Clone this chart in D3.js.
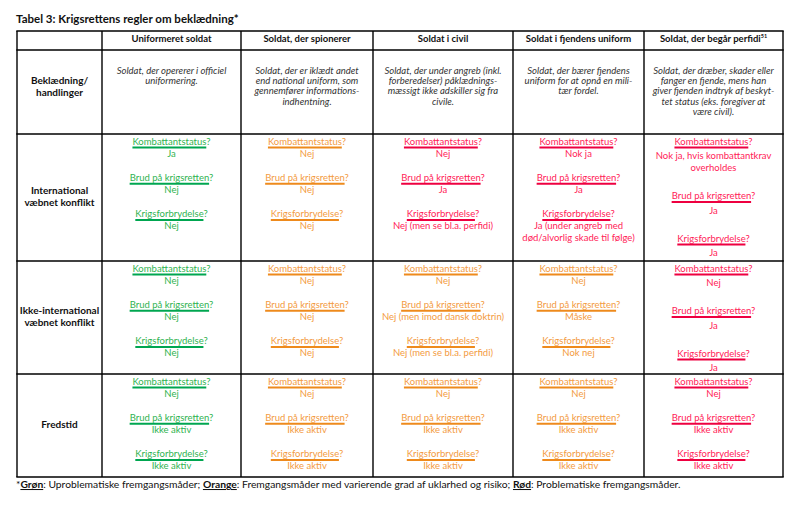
<!DOCTYPE html>
<html>
<head>
<meta charset="utf-8">
<script src="https://cdn.jsdelivr.net/npm/d3@7"></script>
<style>
  body { margin: 0; background: #fff; }
  text { font-family: Lato, "Open Sans", sans-serif; }
</style>
</head>
<body>
<div id="chart"></div>
<script>
var width = 810;
var height = 516;

// ---- table content ----
var title = "Tabel 3: Krigsrettens regler om beklædning*";
var columns = ["Uniformeret soldat", "Soldat, der spionerer", "Soldat i civil",
               "Soldat i fjendens uniform", "Soldat, der begår perfidi"];
var columnNotes = ["", "", "", "", "51"];

var descLabel = ["Beklædning/", "handlinger"];
var descriptions = [
  ["Soldat, der opererer i officiel", "uniformering."],
  ["Soldat, der er iklædt andet", "end national uniform, som", "gennemfører informations-", "indhentning."],
  ["Soldat, der under angreb (inkl.", "forberedelser) påklædnings-", "mæssigt ikke adskiller sig fra", "civile."],
  ["Soldat, der bærer fjendens", "uniform for at opnå en mili-", "tær fordel."],
  ["Soldat, der dræber, skader eller", "fanger en fjende, mens han", "giver fjenden indtryk af beskyt-", "tet status (eks. foregiver at", "være civil)."]
];

var situations = [
  ["International", "væbnet konflikt"],
  ["Ikke-international", "væbnet konflikt"],
  ["Fredstid"]
];
var questions = ["Kombattantstatus", "Brud på krigsretten", "Krigsforbrydelse"];

// g = grøn, o = orange, r = rød
var ratings = [
  ["g", "o", "r", "r", "r"],
  ["g", "o", "o", "o", "r"],
  ["g", "o", "o", "o", "r"]
];

var answersInternational = [
  [["Ja"], ["Nej"], ["Nej"]],
  [["Nej"], ["Nej"], ["Nej"]],
  [["Nej"], ["Ja"], ["Nej (men se bl.a. perfidi)"]],
  [["Nok ja"], ["Ja"], ["Ja (under angreb med", "død/alvorlig skade til følge)"]],
  [["Nok ja, hvis kombattantkrav", "overholdes"], ["Ja"], ["Ja"]]
];
var answersNonInternational = [
  [["Nej"], ["Nej"], ["Nej"]],
  [["Nej"], ["Nej"], ["Nej"]],
  [["Nej"], ["Nej (men imod dansk doktrin)"], ["Nej (men se bl.a. perfidi)"]],
  [["Nej"], ["Måske"], ["Nok nej"]],
  [["Nej"], ["Ja"], ["Ja"]]
];
var answersPeace = [
  [["Nej"], ["Ikke aktiv"], ["Ikke aktiv"]],
  [["Nej"], ["Ikke aktiv"], ["Ikke aktiv"]],
  [["Nej"], ["Ikke aktiv"], ["Ikke aktiv"]],
  [["Nej"], ["Ikke aktiv"], ["Ikke aktiv"]],
  [["Nej"], ["Ikke aktiv"], ["Ikke aktiv"]]
];
var answers = [answersInternational, answersNonInternational, answersPeace];

var footnote = [
  {t: "*", key: false}, {t: "Grøn", key: true}, {t: ": Uproblematiske fremgangsmåder; ", key: false},
  {t: "Orange", key: true}, {t: ": Fremgangsmåder med varierende grad af uklarhed og risiko; ", key: false},
  {t: "Rød", key: true}, {t: ": Problematiske fremgangsmåder.", key: false}
];

// ---- layout ----
var colEdges = [17, 102, 241, 373, 513, 644, 783];
var rowEdges = [31, 50, 134, 261, 374, 477];

var textColor = {g: "#2fb350", o: "#f39b42", r: "#ff2257"};
var lineColor = {g: "#00a650", o: "#ee8a1c", r: "#ee0040"};
var cellFont = "9.5px";

var x = d3.scaleOrdinal().domain(d3.range(colEdges.length)).range(colEdges);
var y = d3.scaleOrdinal().domain(d3.range(rowEdges.length)).range(rowEdges);
function colMid(i) { return (x(i) + x(i + 1)) / 2; }
function rowMid(i) { return (y(i) + y(i + 1)) / 2; }

var svg = d3.select("#chart").append("svg")
  .attr("width", width)
  .attr("height", height);

// title
svg.append("text")
  .attr("x", 16).attr("y", 23)
  .style("font-size", "11.5px").style("font-weight", "bold")
  .attr("fill", "#111")
  .text(title);

// header row
columns.forEach(function(c, i) {
  var t = svg.append("text")
    .attr("x", colMid(i + 1)).attr("y", 42)
    .attr("text-anchor", "middle")
    .style("font-size", "9.5px").style("font-weight", "bold")
    .attr("fill", "#111")
    .text(c);
  if (columnNotes[i]) {
    t.append("tspan").attr("dy", -4).style("font-size", "5.5px").text(columnNotes[i]);
  }
});

// description row
function drawLines(lines, cx, cy, lh, style) {
  var top = cy - (lines.length - 1) * lh / 2;
  lines.forEach(function(l, k) {
    var t = svg.append("text")
      .attr("x", cx).attr("y", top + k * lh + 3.5)
      .attr("text-anchor", "middle")
      .attr("fill", "#111")
      .style("font-size", "10px")
      .text(l);
    for (var s in style) t.style(s, style[s]);
  });
}
drawLines(descLabel, colMid(0), 86, 12, {"font-weight": "bold"});
descriptions.forEach(function(d, i) {
  var cx = colMid(i + 1);
  d.forEach(function(l, k) {
    svg.append("text")
      .attr("x", cx).attr("y", 73.5 + k * 10.4)
      .attr("text-anchor", "middle")
      .style("font-size", "9.5px").style("font-style", "italic")
      .attr("fill", "#333")
      .text(l);
  });
});

// situation rows
situations.forEach(function(s, r) {
  drawLines(s, colMid(0), rowMid(r + 2) - 1, 12.5, {"font-weight": "bold"});
  columns.forEach(function(c, ci) {
    var loose = (ci === 4 && r < 2);
    var sp = loose ? {qa: 14.5, line: 12, gap: 28} : {qa: 12.3, line: 11.5, gap: 24};
    var key = ratings[r][ci];
    var cx = colMid(ci + 1);
    var cy = y(r + 2) + 7;
    questions.forEach(function(q, qi) {
      var t = svg.append("text")
        .attr("x", cx).attr("y", cy + 3.5)
        .attr("text-anchor", "middle")
        .attr("fill", textColor[key])
        .style("font-size", cellFont);
      t.append("tspan").text(q);
      t.append("tspan").text("?");
      var node = t.node();
      var bb = node.getBBox();
      var wlen = node.getSubStringLength(0, q.length);
      svg.append("line")
        .attr("x1", bb.x).attr("x2", bb.x + wlen)
        .attr("y1", cy + 6.5).attr("y2", cy + 6.5)
        .attr("stroke", lineColor[key]).attr("stroke-width", 2);
      cy += sp.qa;
      var a = answers[r][ci][qi];
      a.forEach(function(l, k) {
        svg.append("text")
          .attr("x", cx).attr("y", cy + 3.5)
          .attr("text-anchor", "middle")
          .attr("fill", textColor[key])
          .style("font-size", cellFont)
          .text(l);
        if (k < a.length - 1) cy += sp.line;
      });
      cy += sp.gap;
    });
  });
});

// grid
var grid = svg.append("g").attr("stroke", "#000").attr("stroke-width", 1.4);
rowEdges.forEach(function(d, i) {
  grid.append("line").attr("x1", x(0) - 0.7).attr("x2", x(colEdges.length - 1) + 0.7)
    .attr("y1", y(i)).attr("y2", y(i));
});
colEdges.forEach(function(d, i) {
  grid.append("line").attr("x1", x(i)).attr("x2", x(i))
    .attr("y1", y(0)).attr("y2", y(rowEdges.length - 1));
});

// footnote
var fn = svg.append("text")
  .attr("x", 16).attr("y", 488)
  .style("font-size", "10.3px")
  .attr("fill", "#111");
footnote.forEach(function(f) {
  var ts = fn.append("tspan").text(f.t);
  if (f.key) ts.style("font-weight", "bold").style("text-decoration", "underline");
});
</script>
</body>
</html>
